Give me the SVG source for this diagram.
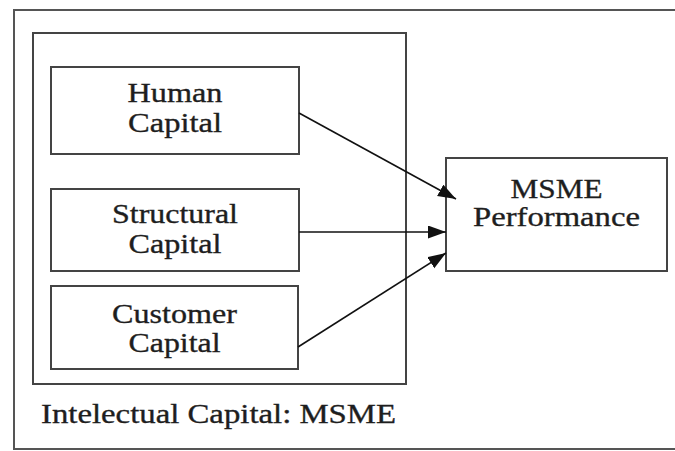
<svg xmlns="http://www.w3.org/2000/svg" width="675" height="451" viewBox="0 0 675 451">
<defs>
<style>
.box{fill:#fff;stroke:#444;stroke-width:2}
.frame{fill:none;stroke:#555;stroke-width:2}
.lbl{font-family:"Liberation Serif","Times New Roman",serif;font-size:28px;fill:#1e1e1e;stroke:#1e1e1e;stroke-width:0.35;text-anchor:middle}
.lbl-left{font-family:"Liberation Serif","Times New Roman",serif;font-size:28px;fill:#1e1e1e;stroke:#1e1e1e;stroke-width:0.35}
.conn{stroke:#111;stroke-width:1.6;fill:none}
</style>
<marker id="arr" markerUnits="userSpaceOnUse" markerWidth="20" markerHeight="14" refX="18" refY="6.5" orient="auto">
<path d="M0,0 L18,6.5 L0,13 Z" fill="#111"/>
</marker>
</defs>
<rect width="675" height="451" fill="#fff"/>
<g id="outer-frame">
<path class="frame" d="M690,10 L14,10 L14,449 L690,449"/>
</g>
<g id="intellectual-capital">
<rect class="box" x="33" y="33" width="373" height="351"/>
<text class="lbl-left" x="41" y="423" textLength="355" lengthAdjust="spacingAndGlyphs">Intelectual Capital:  MSME</text>
</g>
<g id="human-capital">
<rect class="box" x="51" y="67" width="248" height="87"/>
<text class="lbl" x="175" y="102" textLength="95" lengthAdjust="spacingAndGlyphs">Human</text>
<text class="lbl" x="175" y="132" textLength="94" lengthAdjust="spacingAndGlyphs">Capital</text>
</g>
<g id="structural-capital">
<rect class="box" x="51" y="189" width="248" height="82"/>
<text class="lbl" x="175" y="223" textLength="126" lengthAdjust="spacingAndGlyphs">Structural</text>
<text class="lbl" x="175" y="253" textLength="93" lengthAdjust="spacingAndGlyphs">Capital</text>
</g>
<g id="customer-capital">
<rect class="box" x="51" y="286" width="247" height="83"/>
<text class="lbl" x="174.5" y="323" textLength="125" lengthAdjust="spacingAndGlyphs">Customer</text>
<text class="lbl" x="174.5" y="352" textLength="92" lengthAdjust="spacingAndGlyphs">Capital</text>
</g>
<g id="msme-performance">
<rect class="box" x="446" y="158" width="221" height="113"/>
<text class="lbl" x="556.5" y="198" textLength="92" lengthAdjust="spacingAndGlyphs">MSME</text>
<text class="lbl" x="556.5" y="226" textLength="167" lengthAdjust="spacingAndGlyphs">Performance</text>
</g>
<g id="connectors">
<line class="conn" x1="299" y1="113" x2="456" y2="199" marker-end="url(#arr)"/>
<line class="conn" x1="299" y1="232" x2="446" y2="232" marker-end="url(#arr)"/>
<line class="conn" x1="298" y1="347" x2="446" y2="253" marker-end="url(#arr)"/>
</g>
</svg>
